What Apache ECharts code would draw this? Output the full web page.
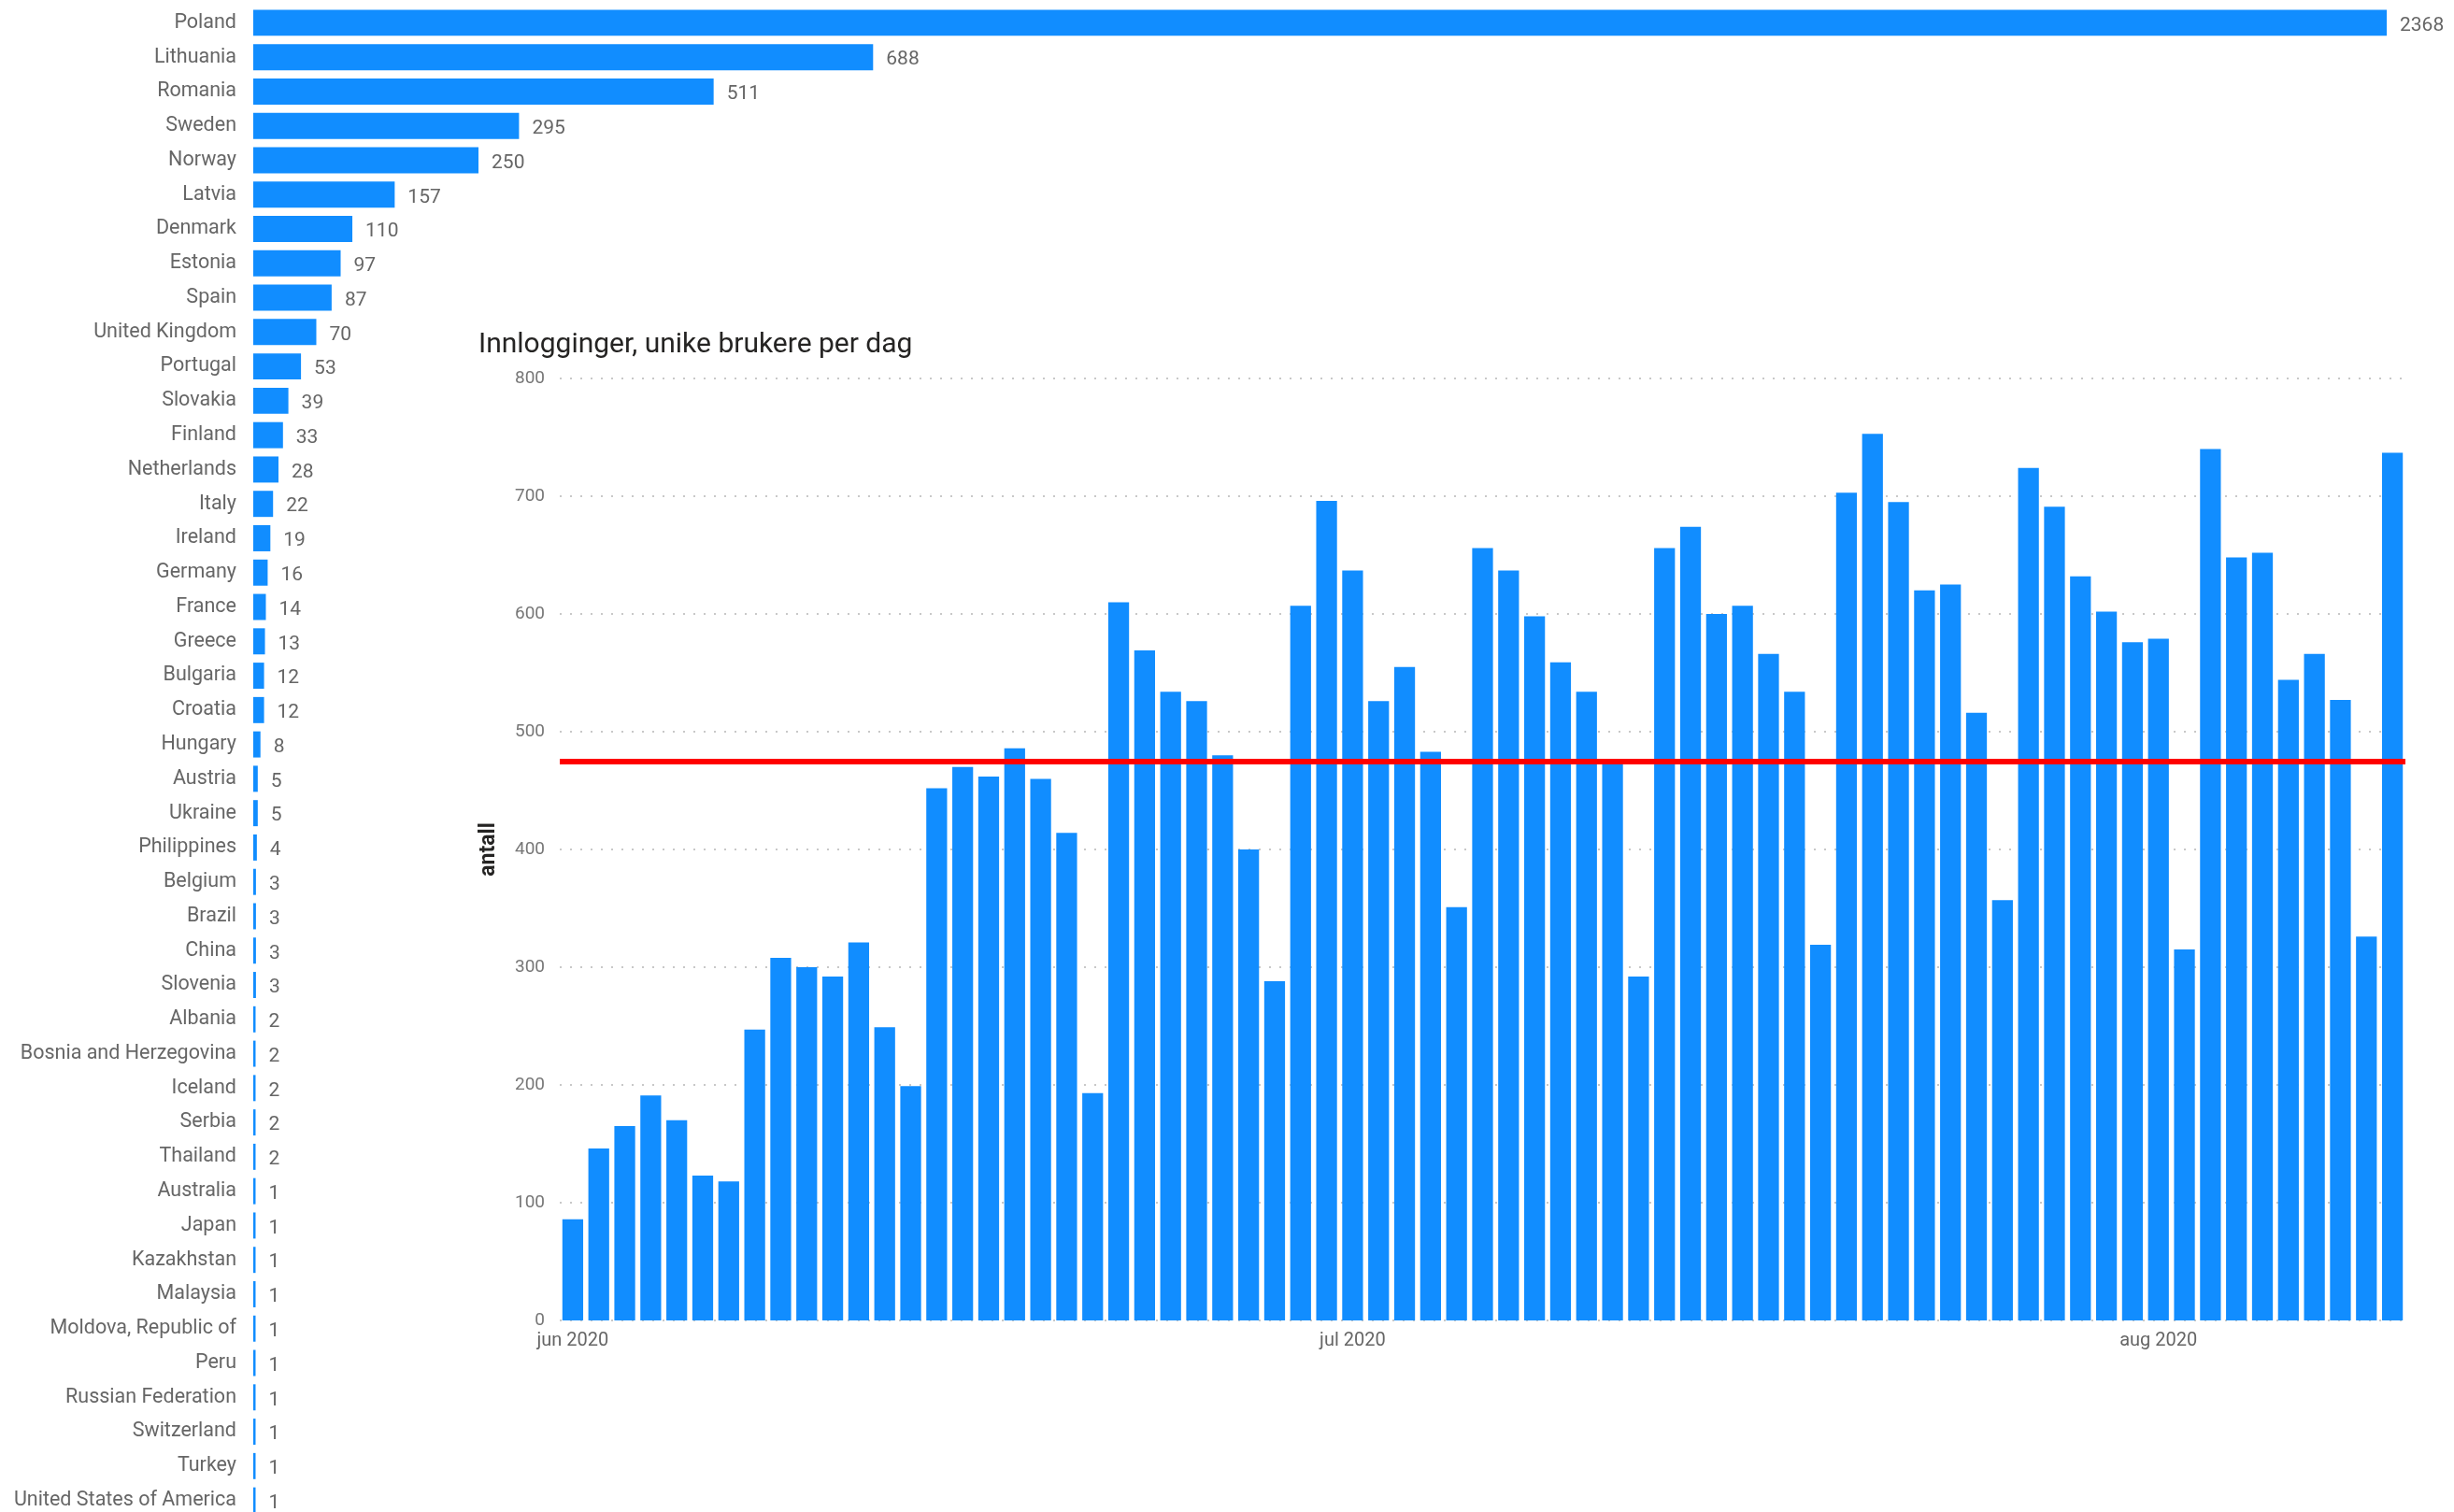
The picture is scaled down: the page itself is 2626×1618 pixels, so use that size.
<!DOCTYPE html>
<html><head><meta charset="utf-8">
<script src="https://cdn.jsdelivr.net/npm/echarts@6/dist/echarts.min.js"></script>
<style>html,body{margin:0;padding:0;background:#fff;width:2626px;height:1618px;overflow:hidden}#c{width:2626px;height:1640px}</style>
</head><body><div id="c"></div>
<script>
// ---- Country bar chart data ----
const countries = ['Poland','Lithuania','Romania','Sweden','Norway','Latvia','Denmark','Estonia','Spain','United Kingdom',
  'Portugal','Slovakia','Finland','Netherlands','Italy','Ireland','Germany','France','Greece','Bulgaria','Croatia','Hungary',
  'Austria','Ukraine','Philippines','Belgium','Brazil','China','Slovenia','Albania','Bosnia and Herzegovina','Iceland','Serbia','Thailand',
  'Australia','Japan','Kazakhstan','Malaysia','Moldova, Republic of','Peru','Russian Federation','Switzerland','Turkey','United States of America'];
const countryValues = [2368,688,511,295,250,157,110,97,87,70,
  53,39,33,28,22,19,16,14,13,12,12,8,
  5,5,4,3,3,3,3,2,2,2,2,2,
  1,1,1,1,1,1,1,1,1,1];

// ---- Daily unique users (jun 1 – aug 10, 2020) ----
const startDate = [2020, 5, 1];
const dailyUsers = [86,146,165,191,170,123,118,247,308,300,292,321,249,199,
  452,470,462,486,460,414,193,610,569,534,526,480,400,288,
  607,696,637,526,555,483,351,656,637,598,559,534,477,292,
  656,674,600,607,566,534,319,703,753,695,620,625,516,357,
  724,691,632,602,576,579,315,740,648,652,544,566,527,326,737];
const referenceLine = 475;
const monthNames = ['jan','feb','mar','apr','mai','jun','jul','aug','sep','okt','nov','des'];
const chartTitle = 'Innlogginger, unike brukere per dag';
const yAxisName = 'antall';

const dates = dailyUsers.map((_, i) => new Date(Date.UTC(startDate[0], startDate[1], startDate[2] + i)).toISOString().slice(0, 10));

const FONT = 'Roboto, "Noto Sans", sans-serif';
const BLUE = '#118DFF';

const chart = echarts.init(document.getElementById('c'), null, {renderer: 'canvas'});
chart.setOption({
  animation: false,
  backgroundColor: '#ffffff',
  textStyle: {fontFamily: FONT},
  title: {
    text: chartTitle, left: 507, top: 349,
    textStyle: {fontFamily: FONT, fontSize: 30, fontWeight: 'normal', color: '#252423'}
  },
  grid: [
    {left: 271, top: 6, width: 2283, height: 1618, containLabel: false},
    {left: 599, top: 405, width: 1975, height: 1008, containLabel: false}
  ],
  xAxis: [
    {gridIndex: 0, type: 'value', min: 0, max: 'dataMax', show: false, splitLine: {show: false}},
    {gridIndex: 1, type: 'category', data: dates,
      axisLine: {show: false}, axisTick: {show: false},
      axisLabel: {
        interval: (idx, val) => val.slice(8, 10) === '01',
        formatter: v => monthNames[parseInt(v.slice(5, 7), 10) - 1] + ' ' + v.slice(0, 4),
        fontSize: 20, color: '#666666', margin: 12, fontFamily: FONT
      }
    }
  ],
  yAxis: [
    {gridIndex: 0, type: 'category', data: countries, inverse: true,
      axisLine: {show: false}, axisTick: {show: false},
      axisLabel: {fontSize: 21.5, color: '#666666', margin: 18, fontFamily: FONT}
    },
    {gridIndex: 1, type: 'value', min: 0, max: 800, interval: 100,
      axisLine: {show: false}, axisTick: {show: false},
      axisLabel: {fontSize: 19, color: '#777777', margin: 16, fontFamily: FONT},
      splitLine: {show: true, lineStyle: {color: '#c8c8c8', width: 2, type: [2, 9]}},
      name: yAxisName, nameLocation: 'middle', nameRotate: 90, nameGap: 64,
      nameTextStyle: {fontSize: 23, fontWeight: 'bold', color: '#252423', fontFamily: FONT}
    }
  ],
  series: [
    {type: 'bar', xAxisIndex: 0, yAxisIndex: 0, data: countryValues,
      barCategoryGap: '24%', barMinHeight: 2.5,
      itemStyle: {color: BLUE},
      label: {show: true, position: 'right', distance: 14, offset: [0, 3], fontSize: 21, color: '#666666', fontFamily: FONT}
    },
    {type: 'bar', xAxisIndex: 1, yAxisIndex: 1, data: dailyUsers,
      barCategoryGap: '20%',
      itemStyle: {color: BLUE},
      markLine: {
        silent: true, symbol: 'none', animation: false,
        label: {show: false},
        lineStyle: {color: '#FF0000', width: 6, type: 'solid'},
        data: [{yAxis: referenceLine}]
      }
    }
  ]
});
</script>
</body></html>
